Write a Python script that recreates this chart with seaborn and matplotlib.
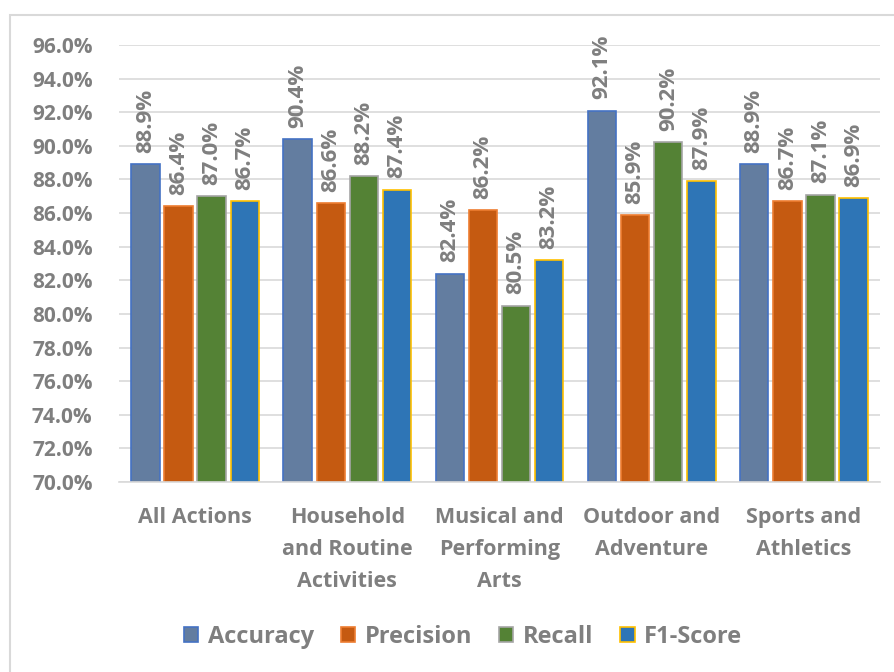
import numpy as np
import pandas as pd
import seaborn as sns
import matplotlib.pyplot as plt
from matplotlib.patches import Rectangle

# datos
categories = ['All Actions', 'Household\nand Routine\nActivities', 'Musical and\nPerforming\nArts',
              'Outdoor and\nAdventure', 'Sports and\nAthletics']
metrics = ['Accuracy', 'Precision', 'Recall', 'F1-Score']
accuracy = [88.9, 90.4, 82.4, 92.1, 88.9]
precision = [86.4, 86.6, 86.2, 85.9, 86.7]
recall = [87.0, 88.2, 80.5, 90.2, 87.1]
f1_score = [86.7, 87.4, 83.2, 87.9, 86.9]

fill_colors = ['#637DA0', '#C55A11', '#548235', '#2E75B6']
edge_colors = ['#4472C4', '#ED7D31', '#A5A5A5', '#FFC000']
grey = '#7F7F7F'

df = pd.DataFrame({'Category': categories, 'Accuracy': accuracy, 'Precision': precision,
                   'Recall': recall, 'F1-Score': f1_score})
df_long = df.melt(id_vars='Category', var_name='Metric', value_name='Value')

sns.set_theme(style='white')
plt.rcParams['font.family'] = ['Open Sans', 'DejaVu Sans']

fig = plt.figure(figsize=(8.95, 6.72), dpi=100)
ax = fig.add_axes([119 / 895, 1 - 482 / 672, (880 - 119) / 895, (482 - 45) / 672])

sns.barplot(data=df_long, x='Category', y='Value', hue='Metric', hue_order=metrics,
            palette=fill_colors, saturation=1, width=0.87, gap=0.14, ax=ax, legend=False)

for cont, ec in zip(ax.containers, edge_colors):
    for bar in cont:
        bar.set_edgecolor(ec)
        bar.set_linewidth(1.2)
    ax.bar_label(cont, fmt='%.1f%%', rotation=90, padding=8, color=grey,
                 fontsize=16, fontweight='bold')

ax.set_ylim(70, 96)
ax.set_yticks(np.arange(70, 96.1, 2))
ax.set_yticklabels([f'{v:.1f}%' for v in np.arange(70, 96.1, 2)])
ax.set_xlim(-0.5, 4.5)
ax.grid(axis='y', color='#D9D9D9', linewidth=1.2)
ax.set_axisbelow(True)
ax.set_xlabel('')
ax.set_ylabel('')
for s in ['top', 'right', 'left']:
    ax.spines[s].set_visible(False)
ax.spines['bottom'].set_color('#D9D9D9')
ax.spines['bottom'].set_linewidth(1.2)
ax.tick_params(axis='y', length=0, pad=19, labelsize=15, labelcolor=grey)
ax.tick_params(axis='x', length=0, pad=18, labelsize=15.5, labelcolor=grey)
for lbl in ax.get_yticklabels() + ax.get_xticklabels():
    lbl.set_fontweight('bold')
for lbl in ax.get_xticklabels():
    lbl.set_linespacing(1.68)

# leyenda
handles = [Rectangle((0, 0), 1, 1, facecolor=fc, edgecolor=ec, linewidth=1.2)
           for fc, ec in zip(fill_colors, edge_colors)]
leg = fig.legend(handles, metrics, loc='center', bbox_to_anchor=(463 / 895, 1 - 637 / 672),
                 ncol=4, frameon=False, handlelength=0.6, handleheight=0.6,
                 handletextpad=0.4, columnspacing=1.15,
                 prop={'size': 17, 'weight': 'bold'})
for t in leg.get_texts():
    t.set_color(grey)

# marco del area del grafico
fig.add_artist(Rectangle((10 / 895, -0.5), 1.2, 0.5 + 1 - 15 / 672, transform=fig.transFigure,
                         fill=False, edgecolor='#D9D9D9', linewidth=1.5))

fig.savefig('out.png', dpi=100)
